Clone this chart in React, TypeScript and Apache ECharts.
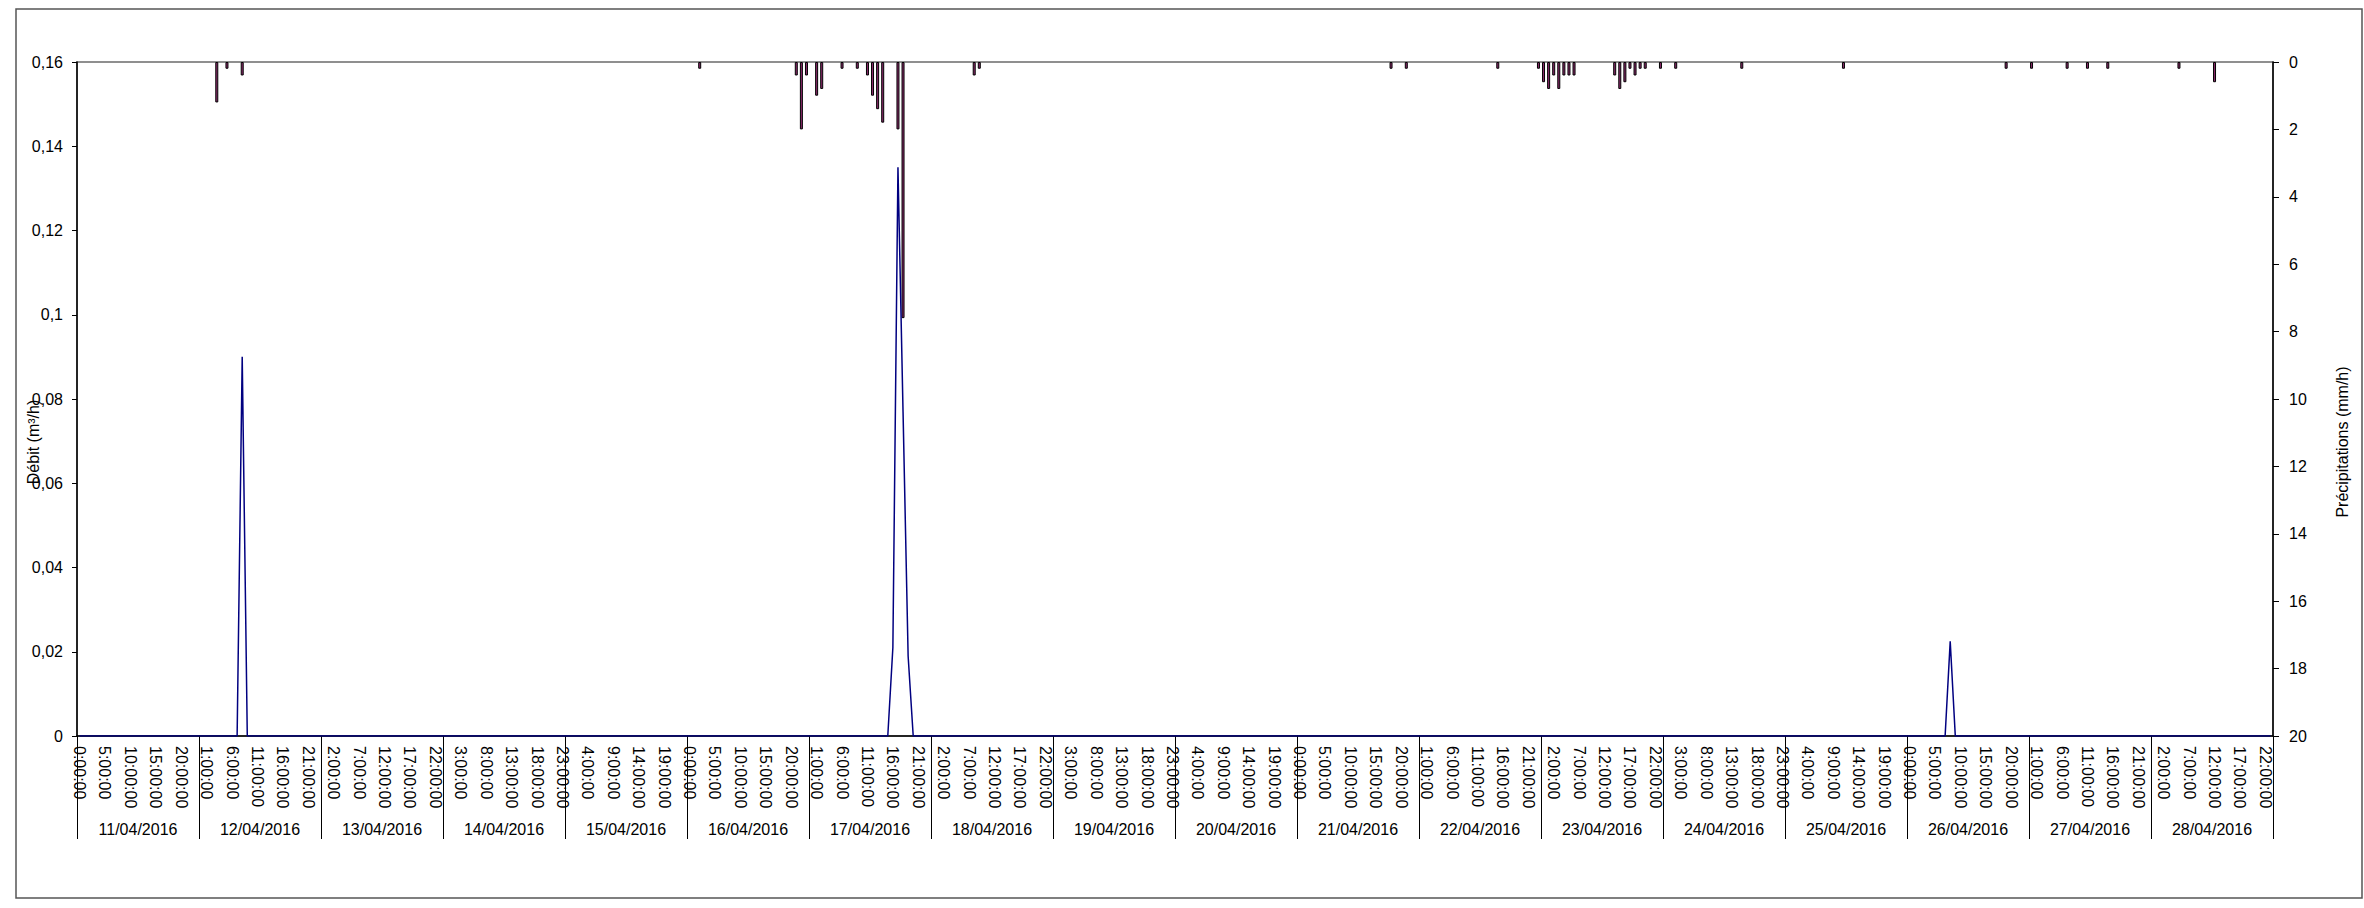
import React, { useEffect, useRef } from "react";
import * as echarts from "echarts";

// Days shown on the lower category level
const dateLabels = [
  "11/04/2016", "12/04/2016", "13/04/2016", "14/04/2016", "15/04/2016", "16/04/2016",
  "17/04/2016", "18/04/2016", "19/04/2016", "20/04/2016", "21/04/2016", "22/04/2016",
  "23/04/2016", "24/04/2016", "25/04/2016", "26/04/2016", "27/04/2016", "28/04/2016",
];
const HOURS_PER_DAY = 24;

// Rainfall (mm/h): hour index (from 11/04 0:00) and value; all other hours are 0
const rainHourIndex = [
  27, 29, 32,
  122,
  141, 142, 143, 145, 146, 150, 153, 155, 156, 157, 158, 161, 162,
  176, 177,
  258, 261, 279,
  287, 288, 289, 290, 291, 292, 293, 294,
  302, 303, 304, 305, 306, 307, 308, 311, 314,
  327, 347,
  379, 384, 391, 395, 399, 413, 420,
];
const rainValues = [
  1.2, 0.2, 0.4,
  0.2,
  0.4, 2.0, 0.4, 1.0, 0.8, 0.2, 0.2, 0.4, 1.0, 1.4, 1.8, 2.0, 7.6,
  0.4, 0.2,
  0.2, 0.2, 0.2,
  0.2, 0.6, 0.8, 0.4, 0.8, 0.4, 0.4, 0.4,
  0.4, 0.8, 0.6, 0.2, 0.4, 0.2, 0.2, 0.2, 0.2,
  0.2, 0.2,
  0.2, 0.2, 0.2, 0.2, 0.2, 0.2, 0.6,
];

// Flow (m³/h): non-zero hours; all other hours are 0
const flowHourIndex = [32, 160, 161, 162, 163, 368];
const flowValues = [0.09, 0.021, 0.135, 0.077, 0.019, 0.0225];

const leftTicks = { min: 0, max: 0.16, interval: 0.02 };
const rightTicks = { min: 0, max: 20, interval: 2 };

const FONT = "'Liberation Sans', Arial, sans-serif";

export default function App() {
  const ref = useRef<HTMLDivElement>(null);

  useEffect(() => {
    if (!ref.current) return;
    const chart = echarts.init(ref.current, undefined, { renderer: "svg" });

    const hourCategories: string[] = [];
    dateLabels.forEach((d) => {
      for (let h = 0; h < HOURS_PER_DAY; h++) hourCategories.push(`${d} ${h}:00:00`);
    });
    const n = hourCategories.length;
    const rain: (number | null)[] = new Array(n).fill(null);
    rainHourIndex.forEach((h, k) => (rain[h] = rainValues[k]));
    const flow: number[] = new Array(n).fill(0);
    flowHourIndex.forEach((h, k) => (flow[h] = flowValues[k]));

    const comma = (v: number) => String(+Number(v).toFixed(2)).replace(".", ",");

    chart.setOption({
      animation: false,
      textStyle: { fontFamily: FONT },
      grid: {
        left: 77,
        top: 62,
        width: 2196,
        height: 674,
        show: true,
        borderColor: "#6b6b6b",
        borderWidth: 1.5,
        backgroundColor: "transparent",
      },
      xAxis: [
        {
          type: "category",
          data: hourCategories,
          boundaryGap: true,
          position: "bottom",
          axisLine: { show: true, onZero: false, lineStyle: { color: "#000", width: 1.5 } },
          axisTick: { show: false },
          splitLine: { show: false },
          axisLabel: {
            interval: 4,
            rotate: -90,
            margin: 10,
            fontSize: 16,
            color: "#000",
            fontFamily: FONT,
            formatter: (v: string) => v.split(" ")[1],
          },
        },
        {
          type: "category",
          data: dateLabels,
          boundaryGap: true,
          position: "bottom",
          axisLine: { show: false, onZero: false },
          axisTick: { show: true, interval: 0, length: 103, lineStyle: { color: "#000", width: 1 } },
          splitLine: { show: false },
          axisLabel: { interval: 0, margin: 85, fontSize: 16, color: "#000", fontFamily: FONT },
        },
      ],
      yAxis: [
        {
          type: "value",
          position: "left",
          ...leftTicks,
          axisLine: { show: true, onZero: false, lineStyle: { color: "#000", width: 1.5 } },
          axisTick: { show: true, length: 5, lineStyle: { color: "#000", width: 1 } },
          splitLine: { show: false },
          axisLabel: { margin: 14, fontSize: 16, color: "#000", fontFamily: FONT, formatter: comma },
        },
        {
          type: "value",
          position: "right",
          inverse: true,
          ...rightTicks,
          axisLine: { show: true, onZero: false, lineStyle: { color: "#000", width: 1.5 } },
          axisTick: { show: true, length: 6, lineStyle: { color: "#000", width: 1 } },
          splitLine: { show: false },
          axisLabel: { margin: 16, fontSize: 16, color: "#000", fontFamily: FONT },
        },
      ],
      series: [
        {
          name: "Précipitations",
          type: "bar",
          xAxisIndex: 0,
          yAxisIndex: 1,
          data: rain,
          barWidth: 3,
          itemStyle: { color: "#8b2a6b", borderColor: "#000", borderWidth: 1 },
          z: 2,
        },
        {
          name: "Débit",
          type: "line",
          xAxisIndex: 0,
          yAxisIndex: 0,
          data: flow,
          symbol: "none",
          lineStyle: { color: "#000080", width: 1.5 },
          z: 3,
        },
      ],
      graphic: [
        {
          type: "rect",
          shape: { x: 16, y: 9, width: 2346, height: 889 },
          style: { fill: "none", stroke: "#555", lineWidth: 1.5 },
          silent: true,
          z: -1,
        },
        {
          type: "text",
          x: 33,
          y: 442,
          rotation: Math.PI / 2,
          style: {
            text: "Débit (m³/h)",
            fontSize: 16,
            fontFamily: FONT,
            fill: "#000",
            align: "center",
            verticalAlign: "middle",
          },
        },
        {
          type: "text",
          x: 2342,
          y: 442,
          rotation: Math.PI / 2,
          style: {
            text: "Précipitations (mm/h)",
            fontSize: 16,
            fontFamily: FONT,
            fill: "#000",
            align: "center",
            verticalAlign: "middle",
          },
        },
      ],
    });

    return () => chart.dispose();
  }, []);

  return (
    <div
      ref={ref}
      style={{ position: "absolute", left: 0, top: 0, width: 2364, height: 908, background: "#fff" }}
    />
  );
}
